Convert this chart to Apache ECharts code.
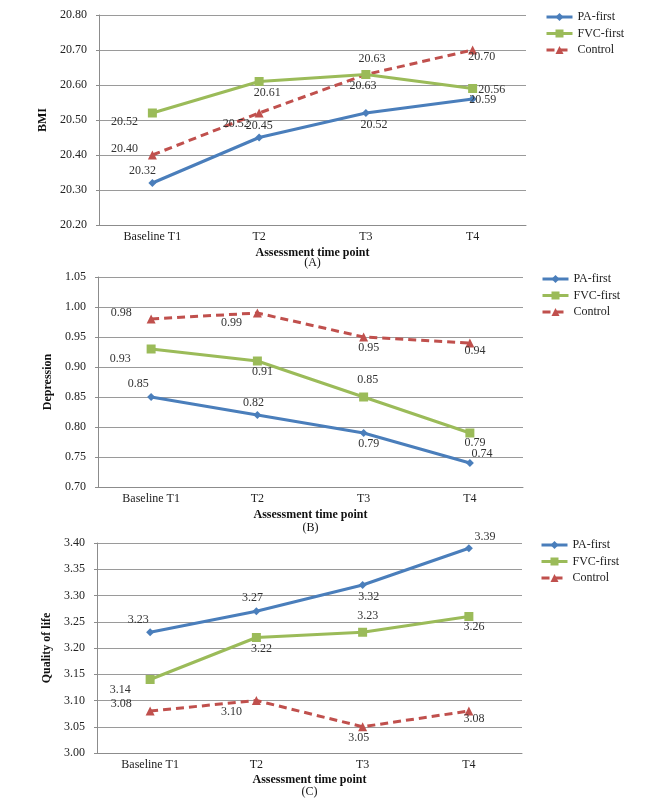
<!DOCTYPE html>
<html>
<head>
<meta charset="utf-8">
<script src="https://cdn.jsdelivr.net/npm/echarts@6/dist/echarts.min.js"></script>
<style>
  html, body { margin: 0; padding: 0; background: #fff; }
  #main { width: 666px; height: 799px; }
</style>
</head>
<body>
<div id="main"></div>
<script>
// categories
const timePoints = ['Baseline T1', 'T2', 'T3', 'T4'];
const groups = ['PA-first', 'FVC-first', 'Control'];

// (A) BMI
const bmiPA = [20.32, 20.45, 20.52, 20.56];
const bmiFVC = [20.52, 20.61, 20.63, 20.59];
const bmiControl = [20.40, 20.52, 20.63, 20.70];
// labels as printed in the figure (T4 ones are swapped there)
const bmiPALabels = ['20.32', '20.45', '20.52', '20.59'];
const bmiFVCLabels = ['20.52', '20.61', '20.63', '20.56'];
const bmiControlLabels = ['20.40', '20.52', '20.63', '20.70'];

// (B) Depression
const depPA = [0.85, 0.82, 0.79, 0.74];
const depFVC = [0.93, 0.91, 0.85, 0.79];
const depControl = [0.98, 0.99, 0.95, 0.94];

// (C) Quality of life
const qolPA = [3.23, 3.27, 3.32, 3.39];
const qolFVC = [3.14, 3.22, 3.23, 3.26];
const qolControl = [3.08, 3.10, 3.05, 3.08];

// y axis ranges
const bmiAxis = [20.2, 20.8, 0.1];
const depAxis = [0.70, 1.05, 0.05];
const qolAxis = [3.00, 3.40, 0.05];

const FONT = 'Liberation Serif';
const colors = ['#4A7EBB', '#9BBB59', '#C0504D'];

// where each data label sits relative to its point (px)
const nudges = [
  [ // A
    [[-10, -12], [0, -12], [8, 12], [10, 1]],
    [[-28, 9], [8, 11], [6, -16], [19, 1]],
    [[-28, -6], [-23, 11], [-3, 11], [9, 7]]
  ],
  [ // B
    [[-13, -13], [-4, -12], [5, 11], [12, -9]],
    [[-31, 10], [5, 11], [4, -17], [5, 10]],
    [[-30, -6], [-26, 10], [5, 11], [5, 8]]
  ],
  [ // C
    [[-12, -12], [-4, -13], [6, 12], [16, -11]],
    [[-30, 10], [5, 11], [5, -16], [5, 10]],
    [[-29, -7], [-25, 11], [-4, 11], [5, 8]]
  ]
];

const panels = [
  { name: 'BMI', tag: '(A)', axis: bmiAxis,
    values: [bmiPA, bmiFVC, bmiControl],
    texts: [bmiPALabels, bmiFVCLabels, bmiControlLabels],
    grid: { left: 99, top: 15, width: 427, height: 210 },
    legend: { left: 545, top: 11 }, nameGap: 23, yGap: 43, lh: 10 },
  { name: 'Depression', tag: '(B)', axis: depAxis,
    values: [depPA, depFVC, depControl],
    texts: null,
    grid: { left: 98, top: 277, width: 425, height: 210 },
    legend: { left: 541, top: 273 }, nameGap: 21, yGap: 37, lh: 13 },
  { name: 'Quality of life', tag: '(C)', axis: qolAxis,
    values: [qolPA, qolFVC, qolControl],
    texts: null,
    grid: { left: 97, top: 543, width: 425, height: 210 },
    legend: { left: 540, top: 539 }, nameGap: 21, yGap: 41, lh: 12 }
];

const symbols = ['diamond', 'rect', 'triangle'];
const symbolSizes = [8, 9, 9];

const series = [];
panels.forEach((p, pi) => {
  groups.forEach((g, si) => {
    const vals = p.values[si];
    const texts = p.texts ? p.texts[si] : vals.map(v => v.toFixed(2));
    series.push({
      name: g,
      type: 'line',
      xAxisIndex: pi,
      yAxisIndex: pi,
      data: vals.map((v, i) => ({ value: v, label: { offset: nudges[pi][si][i] } })),
      symbol: symbols[si],
      symbolSize: symbolSizes[si],
      color: colors[si],
      lineStyle: { width: 3, type: si === 2 ? [8, 5] : 'solid' },
      itemStyle: { color: colors[si] },
      animation: false,
      label: {
        show: true,
        position: 'inside',
        formatter: prm => texts[prm.dataIndex],
        fontFamily: FONT,
        fontSize: 12,
        color: '#333'
      },
      z: 3 - si
    });
  });
});

const chart = echarts.init(document.getElementById('main'));
chart.setOption({
  backgroundColor: '#fff',
  animation: false,
  textStyle: { fontFamily: FONT },
  grid: panels.map(p => p.grid),
  legend: panels.map(p => ({
    left: p.legend.left,
    top: p.legend.top,
    padding: 0,
    orient: 'vertical',
    itemWidth: 26,
    itemHeight: 10,
    itemGap: 4.5,
    data: groups,
    selectedMode: false,
    lineStyle: { width: 3 },
    textStyle: { fontFamily: FONT, fontSize: 12, color: '#222' }
  })),
  xAxis: panels.map((p, pi) => ({
    type: 'category',
    gridIndex: pi,
    data: timePoints,
    boundaryGap: true,
    axisLine: { lineStyle: { color: '#8c8c8c', width: 1 } },
    axisTick: { show: false },
    axisLabel: { margin: 6, fontFamily: FONT, fontSize: 12, color: '#222' },
    name: '{b|Assessment time point}\n{n|' + p.tag + '}',
    nameLocation: 'middle',
    nameGap: p.nameGap,
    nameTextStyle: {
      rich: {
        b: { fontFamily: FONT, fontSize: 12, fontWeight: 'bold', color: '#111', lineHeight: p.lh },
        n: { fontFamily: FONT, fontSize: 12, color: '#111', lineHeight: p.lh }
      }
    }
  })),
  yAxis: panels.map((p, pi) => ({
    type: 'value',
    gridIndex: pi,
    min: p.axis[0],
    max: p.axis[1],
    interval: p.axis[2],
    axisLine: { show: true, lineStyle: { color: '#8c8c8c', width: 1 } },
    axisTick: { show: true, length: 3, lineStyle: { color: '#8c8c8c' } },
    splitLine: { lineStyle: { color: '#9a9a9a', width: 1 } },
    axisLabel: {
      margin: 12,
      fontFamily: FONT,
      fontSize: 12,
      color: '#222',
      formatter: v => v.toFixed(2)
    },
    name: p.name,
    nameLocation: 'middle',
    nameGap: p.yGap,
    nameTextStyle: { fontFamily: FONT, fontSize: 12, fontWeight: 'bold', color: '#111' }
  })),
  series: series
});
</script>
</body>
</html>
